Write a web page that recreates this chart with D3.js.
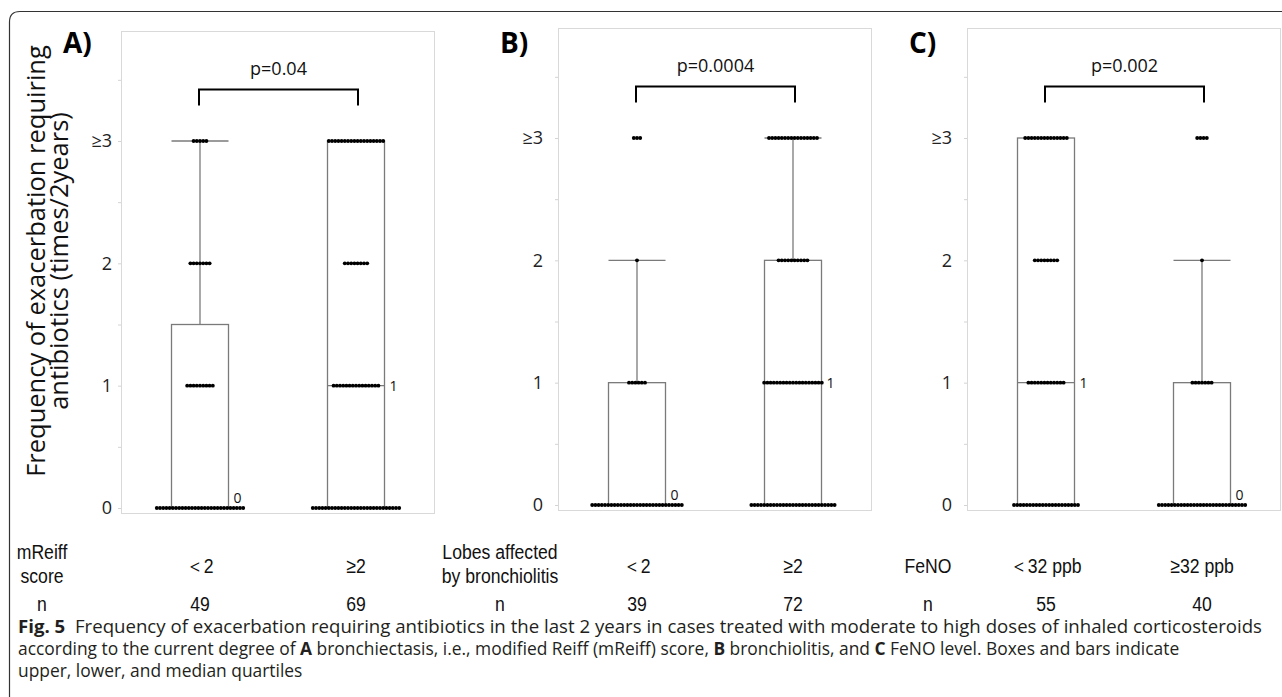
<!DOCTYPE html>
<html lang="en">
<head>
<meta charset="utf-8">
<title>Fig. 5 exacerbation frequency</title>
<script src="https://cdn.jsdelivr.net/npm/d3@7"></script>
<style>
    body { margin: 0; background: #fff; }
    svg { display: block; }
    .tick text { font-family: "Open Sans", sans-serif; font-size: 18px; fill: #222; }
    .tick line { stroke: #d4d4d4; }
    .lab { font-family: "Liberation Sans", Arial, sans-serif; font-size: 21px; fill: #111; }
    .cap { font-family: "Open Sans", sans-serif; font-size: 17.4px; fill: #231f20; }
</style>
</head>
<body>
<div id="chart"></div>
<script>
// ---- data ----
const panelLabels = ["A)", "B)", "C)"];
const pValues = ["p=0.04", "p=0.0004", "p=0.002"];
const factorNames = [["mReiff", "score"], ["Lobes affected", "by bronchiolitis"], ["FeNO"]];
const groupNames = [["\uFF1C2", "≥2"], ["\uFF1C2", "≥2"], ["\uFF1C32 ppb", "≥32 ppb"]];
const nCounts = [[49, 69], [39, 72], [55, 40]];
const tickLabels = ["0", "1", "2", "≥3"];
// number of patients at 0, 1, 2, >=3 exacerbations
const dotCounts = [
    [[28, 9, 7, 5], [28, 15, 8, 18]],
    [[29, 6, 1, 3], [27, 19, 10, 16]],
    [[21, 12, 8, 14], [28, 7, 1, 4]]
];
const lowerQ = [[0, 0], [0, 0], [0, 0]];
const medians = [[0, 1], [0, 1], [1, 0]];
const upperQ = [[1.5, 3], [1, 2], [3, 1]];
const whiskerTop = [[3, 3], [2, 3], [3, 2]];

// ---- layout ----
const W = 1282, H = 697;
const frameLeft = [121, 558, 967];
const frameTop = [31, 28, 28];
const frameW = 313, frameH = 482;
const tickPad = [6, 12, 12];
const factorX = [42, 500, 928];
const boxW = 57, dotStep = 3.2, dotR = 1.95;

const svg = d3.select("#chart").append("svg")
    .attr("width", W).attr("height", H);

// outer rounded border (only top and left visible)
svg.append("path")
    .attr("d", "M9.5,720 L9.5,22 Q9.5,11.5 20,11.5 L1300,11.5")
    .attr("fill", "none").attr("stroke", "#333").attr("stroke-width", 1.2);

const y = d3.scaleLinear().domain([0, 3]).range([477, 110]);
const x = d3.scalePoint().domain([0, 1]).range([79, 235]);

// narrow-ish label text (the source uses a condensed sans)
function label(tx, ty, str) {
    svg.append("text").attr("class", "lab")
        .attr("transform", "translate(" + tx + "," + ty + ") scale(0.84,1)")
        .attr("text-anchor", "middle")
        .text(str);
}

panelLabels.forEach((lab, p) => {
    const g = svg.append("g")
        .attr("transform", "translate(" + frameLeft[p] + "," + frameTop[p] + ")");

    // frame
    g.append("rect")
        .attr("x", 0.5).attr("y", 0.5)
        .attr("width", frameW).attr("height", frameH)
        .attr("fill", "none").attr("stroke", "#d9d9d9");

    // y axis
    const ax = g.append("g")
        .call(d3.axisLeft(y)
            .tickValues(d3.range(0, 3.51, 0.5))
            .tickSize(3)
            .tickPadding(tickPad[p])
            .tickFormat(d => Number.isInteger(d) ? tickLabels[d] : ""));
    ax.select(".domain").remove();

    // panel label
    g.append("text")
        .attr("x", -58).attr("y", p ? 25 : 22)
        .attr("font-family", "Open Sans, sans-serif")
        .attr("font-weight", "bold").attr("font-size", 28)
        .attr("fill", "#000")
        .text(lab);

    // boxes and whiskers
    [0, 1].forEach(k => {
        const cx = x(k);
        const grey = "#7a7a7a";
        if (whiskerTop[p][k] > upperQ[p][k]) {
            g.append("line")
                .attr("x1", cx).attr("x2", cx)
                .attr("y1", y(upperQ[p][k])).attr("y2", y(whiskerTop[p][k]))
                .attr("stroke", grey).attr("stroke-width", 1.3);
            g.append("line")
                .attr("x1", cx - boxW / 2).attr("x2", cx + boxW / 2)
                .attr("y1", y(whiskerTop[p][k])).attr("y2", y(whiskerTop[p][k]))
                .attr("stroke", grey).attr("stroke-width", 1.3);
        }
        g.append("rect")
            .attr("x", cx - boxW / 2).attr("y", y(upperQ[p][k]))
            .attr("width", boxW).attr("height", y(lowerQ[p][k]) - y(upperQ[p][k]))
            .attr("fill", "none").attr("stroke", grey).attr("stroke-width", 1.3);
        g.append("line")
            .attr("x1", cx - boxW / 2).attr("x2", cx + boxW / 2)
            .attr("y1", y(medians[p][k])).attr("y2", y(medians[p][k]))
            .attr("stroke", grey).attr("stroke-width", 1.3);
        g.append("text")
            .attr("x", cx + boxW / 2 + 5)
            .attr("y", medians[p][k] > 0 ? y(medians[p][k]) + 5 : y(medians[p][k]) - 5)
            .attr("font-family", "Open Sans, sans-serif").attr("font-size", 14)
            .attr("fill", "#111")
            .text(medians[p][k]);

        // dots
        dotCounts[p][k].forEach((cnt, lev) => {
            const x0 = cx - (cnt - 1) * dotStep / 2;
            g.selectAll(null)
                .data(d3.range(cnt))
                .enter().append("circle")
                .attr("cx", i => x0 + i * dotStep)
                .attr("cy", y(lev))
                .attr("r", dotR)
                .attr("fill", "#000");
        });
    });

    // significance bracket
    const bx0 = x(0) - 1, bx1 = x(1) + 2;
    g.append("path")
        .attr("d", "M" + bx0 + "," + y(3.29) + " V" + y(3.42) + " H" + bx1 + " V" + y(3.29))
        .attr("fill", "none").attr("stroke", "#000").attr("stroke-width", 2);
    g.append("text")
        .attr("x", (bx0 + bx1) / 2).attr("y", y(3.54))
        .attr("text-anchor", "middle")
        .attr("font-family", "Open Sans, sans-serif").attr("font-size", 18)
        .attr("fill", "#111")
        .text(pValues[p]);

    // group labels and n
    const rowY = 573, nY = 611;
    const fn = factorNames[p];
    fn.forEach((t, i) => label(factorX[p], fn.length === 1 ? rowY : 559 + i * 24, t));
    label(factorX[p], nY, "n");
    [0, 1].forEach(k => {
        label(frameLeft[p] + x(k), rowY, groupNames[p][k]);
        label(frameLeft[p] + x(k), nY, nCounts[p][k]);
    });
});

// y axis title
const yt = svg.append("text")
    .attr("transform", "translate(0,261) rotate(-90)")
    .attr("text-anchor", "middle")
    .attr("font-family", "Open Sans, sans-serif").attr("font-size", 25.5)
    .attr("fill", "#111");
yt.append("tspan").attr("x", 0).attr("y", 45).text("Frequency of exacerbation requiring");
yt.append("tspan").attr("x", 0).attr("y", 68).text("antibiotics (times/2years)");

// caption
const capLines = [
    [["Fig. 5", true], ["  Frequency of exacerbation requiring antibiotics in the last 2 years in cases treated with moderate to high doses of inhaled corticosteroids", false]],
    [["according to the current degree of ", false], ["A", true], [" bronchiectasis, i.e., modified Reiff (mReiff) score, ", false], ["B", true], [" bronchiolitis, and ", false], ["C", true], [" FeNO level. Boxes and bars indicate", false]],
    [["upper, lower, and median quartiles", false]]
];
capLines.forEach((line, i) => {
    const t = svg.append("text").attr("class", "cap")
        .attr("x", 18).attr("y", 633 + i * 22)
        .attr("xml:space", "preserve");
    line.forEach(seg => {
        t.append("tspan")
            .attr("font-weight", seg[1] ? "bold" : "normal")
            .text(seg[0]);
    });
    // first line runs to the right margin in the source figure
    if (i === 0) t.attr("textLength", 1244).attr("lengthAdjust", "spacingAndGlyphs");
});
</script>
</body>
</html>
